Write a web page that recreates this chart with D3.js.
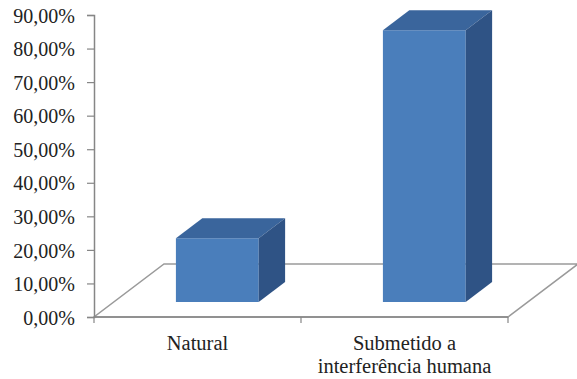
<!DOCTYPE html>
<html>
<head>
<meta charset="utf-8">
<script src="https://cdn.jsdelivr.net/npm/d3@7"></script>
<style>
  html, body { margin: 0; padding: 0; background: #ffffff; }
</style>
</head>
<body>
<svg id="chart" width="577" height="379"></svg>
<script>
// Share of cases by condition
const categories = ["Natural", "Submetido a\ninterferência humana"];
const values = [0.19, 0.81];
const yTicks = [0, 0.1, 0.2, 0.3, 0.4, 0.5, 0.6, 0.7, 0.8, 0.9];

const serif = "'Liberation Serif', 'Times New Roman', 'DejaVu Serif', serif";
const svg = d3.select("#chart");

// plot frame (front plane)
const plotLeft = 94, plotRight = 508, plotBottom = 317, plotTop = 15;
// floor depth projection
const depthX = 70, depthY = -53;
// bars sit between these fractions of the floor depth
const barFront = 0.283, barBack = 0.66;

const y = d3.scaleLinear().domain([0, 0.9]).range([plotBottom, plotTop]);
const x = d3.scaleBand().domain(categories).range([plotLeft, plotRight])
  .paddingInner(0.6).paddingOuter(0.3);
const xAxisBand = d3.scaleBand().domain(categories).range([plotLeft, plotRight]);

const fmt = v => d3.format(".2f")(v * 100).replace(".", ",") + "%";
const pts = a => a.map(p => p.join(",")).join(" ");

// floor outline
const floor = [
  [plotLeft, plotBottom], [plotRight, plotBottom],
  [plotRight + depthX, plotBottom + depthY], [plotLeft + depthX, plotBottom + depthY]
];
svg.append("polygon")
  .attr("points", pts(floor))
  .attr("fill", "none")
  .attr("stroke", "#9a9a9a")
  .attr("stroke-width", 1.5);

// value axis
const yAxis = d3.axisLeft(y).tickValues(yTicks).tickFormat(fmt)
  .tickSize(7).tickPadding(12);
const gy = svg.append("g").attr("transform", `translate(${plotLeft},0)`).call(yAxis)
  .attr("font-family", serif).attr("font-size", 20);
gy.select(".domain").attr("stroke", "#868686").attr("stroke-width", 1.5);
gy.selectAll(".tick line").attr("stroke", "#868686").attr("stroke-width", 1.2);
gy.selectAll(".tick text")
  .attr("fill", "#222")
  .style("font-family", serif)
  .style("font-size", "20px")
  .attr("dy", "0.36em");

// category axis
const xTickPos = [plotLeft, ...categories.map(c => xAxisBand(c) + xAxisBand.bandwidth())];
svg.append("line").attr("x1", plotLeft).attr("x2", plotRight)
  .attr("y1", plotBottom).attr("y2", plotBottom)
  .attr("stroke", "#868686").attr("stroke-width", 1.5);
svg.selectAll(".xtick").data(xTickPos).join("line")
  .attr("class", "xtick")
  .attr("x1", d => d).attr("x2", d => d)
  .attr("y1", plotBottom).attr("y2", plotBottom + 6)
  .attr("stroke", "#868686").attr("stroke-width", 1.2);

// 3D bars
const fx = barFront * depthX, fy = barFront * depthY;
const bx = (barBack - barFront) * depthX, by = (barBack - barFront) * depthY;

const bars = svg.selectAll(".bar").data(categories.map((c, i) => ({ c, v: values[i] })))
  .join("g").attr("class", "bar");

bars.each(function(d) {
  const g = d3.select(this);
  const x0 = x(d.c) + fx, x1 = x(d.c) + x.bandwidth() + fx;
  const yb = y(0) + fy, yt = y(d.v) + fy;
  g.append("polygon").attr("points", pts([[x0, yt], [x1, yt], [x1, yb], [x0, yb]]))
    .attr("fill", "#4a7ebb");
  g.append("polygon").attr("points", pts([[x0, yt], [x1, yt], [x1 + bx, yt + by], [x0 + bx, yt + by]]))
    .attr("fill", "#3a659c");
  g.append("polygon").attr("points", pts([[x1, yt], [x1 + bx, yt + by], [x1 + bx, yb + by], [x1, yb]]))
    .attr("fill", "#2f5385");
});

// category labels
svg.selectAll(".xlabel").data(categories).join("text")
  .attr("class", "xlabel")
  .attr("text-anchor", "middle")
  .style("font-family", serif)
  .style("font-size", "20.5px")
  .attr("fill", "#222")
  .attr("x", d => xAxisBand(d) + xAxisBand.bandwidth() / 2)
  .attr("y", 350)
  .each(function(d) {
    const cx = xAxisBand(d) + xAxisBand.bandwidth() / 2;
    d3.select(this).selectAll("tspan").data(d.split("\n")).join("tspan")
      .attr("x", cx)
      .attr("dy", (l, i) => i === 0 ? 0 : 23)
      .text(l => l);
  });
</script>
</body>
</html>
